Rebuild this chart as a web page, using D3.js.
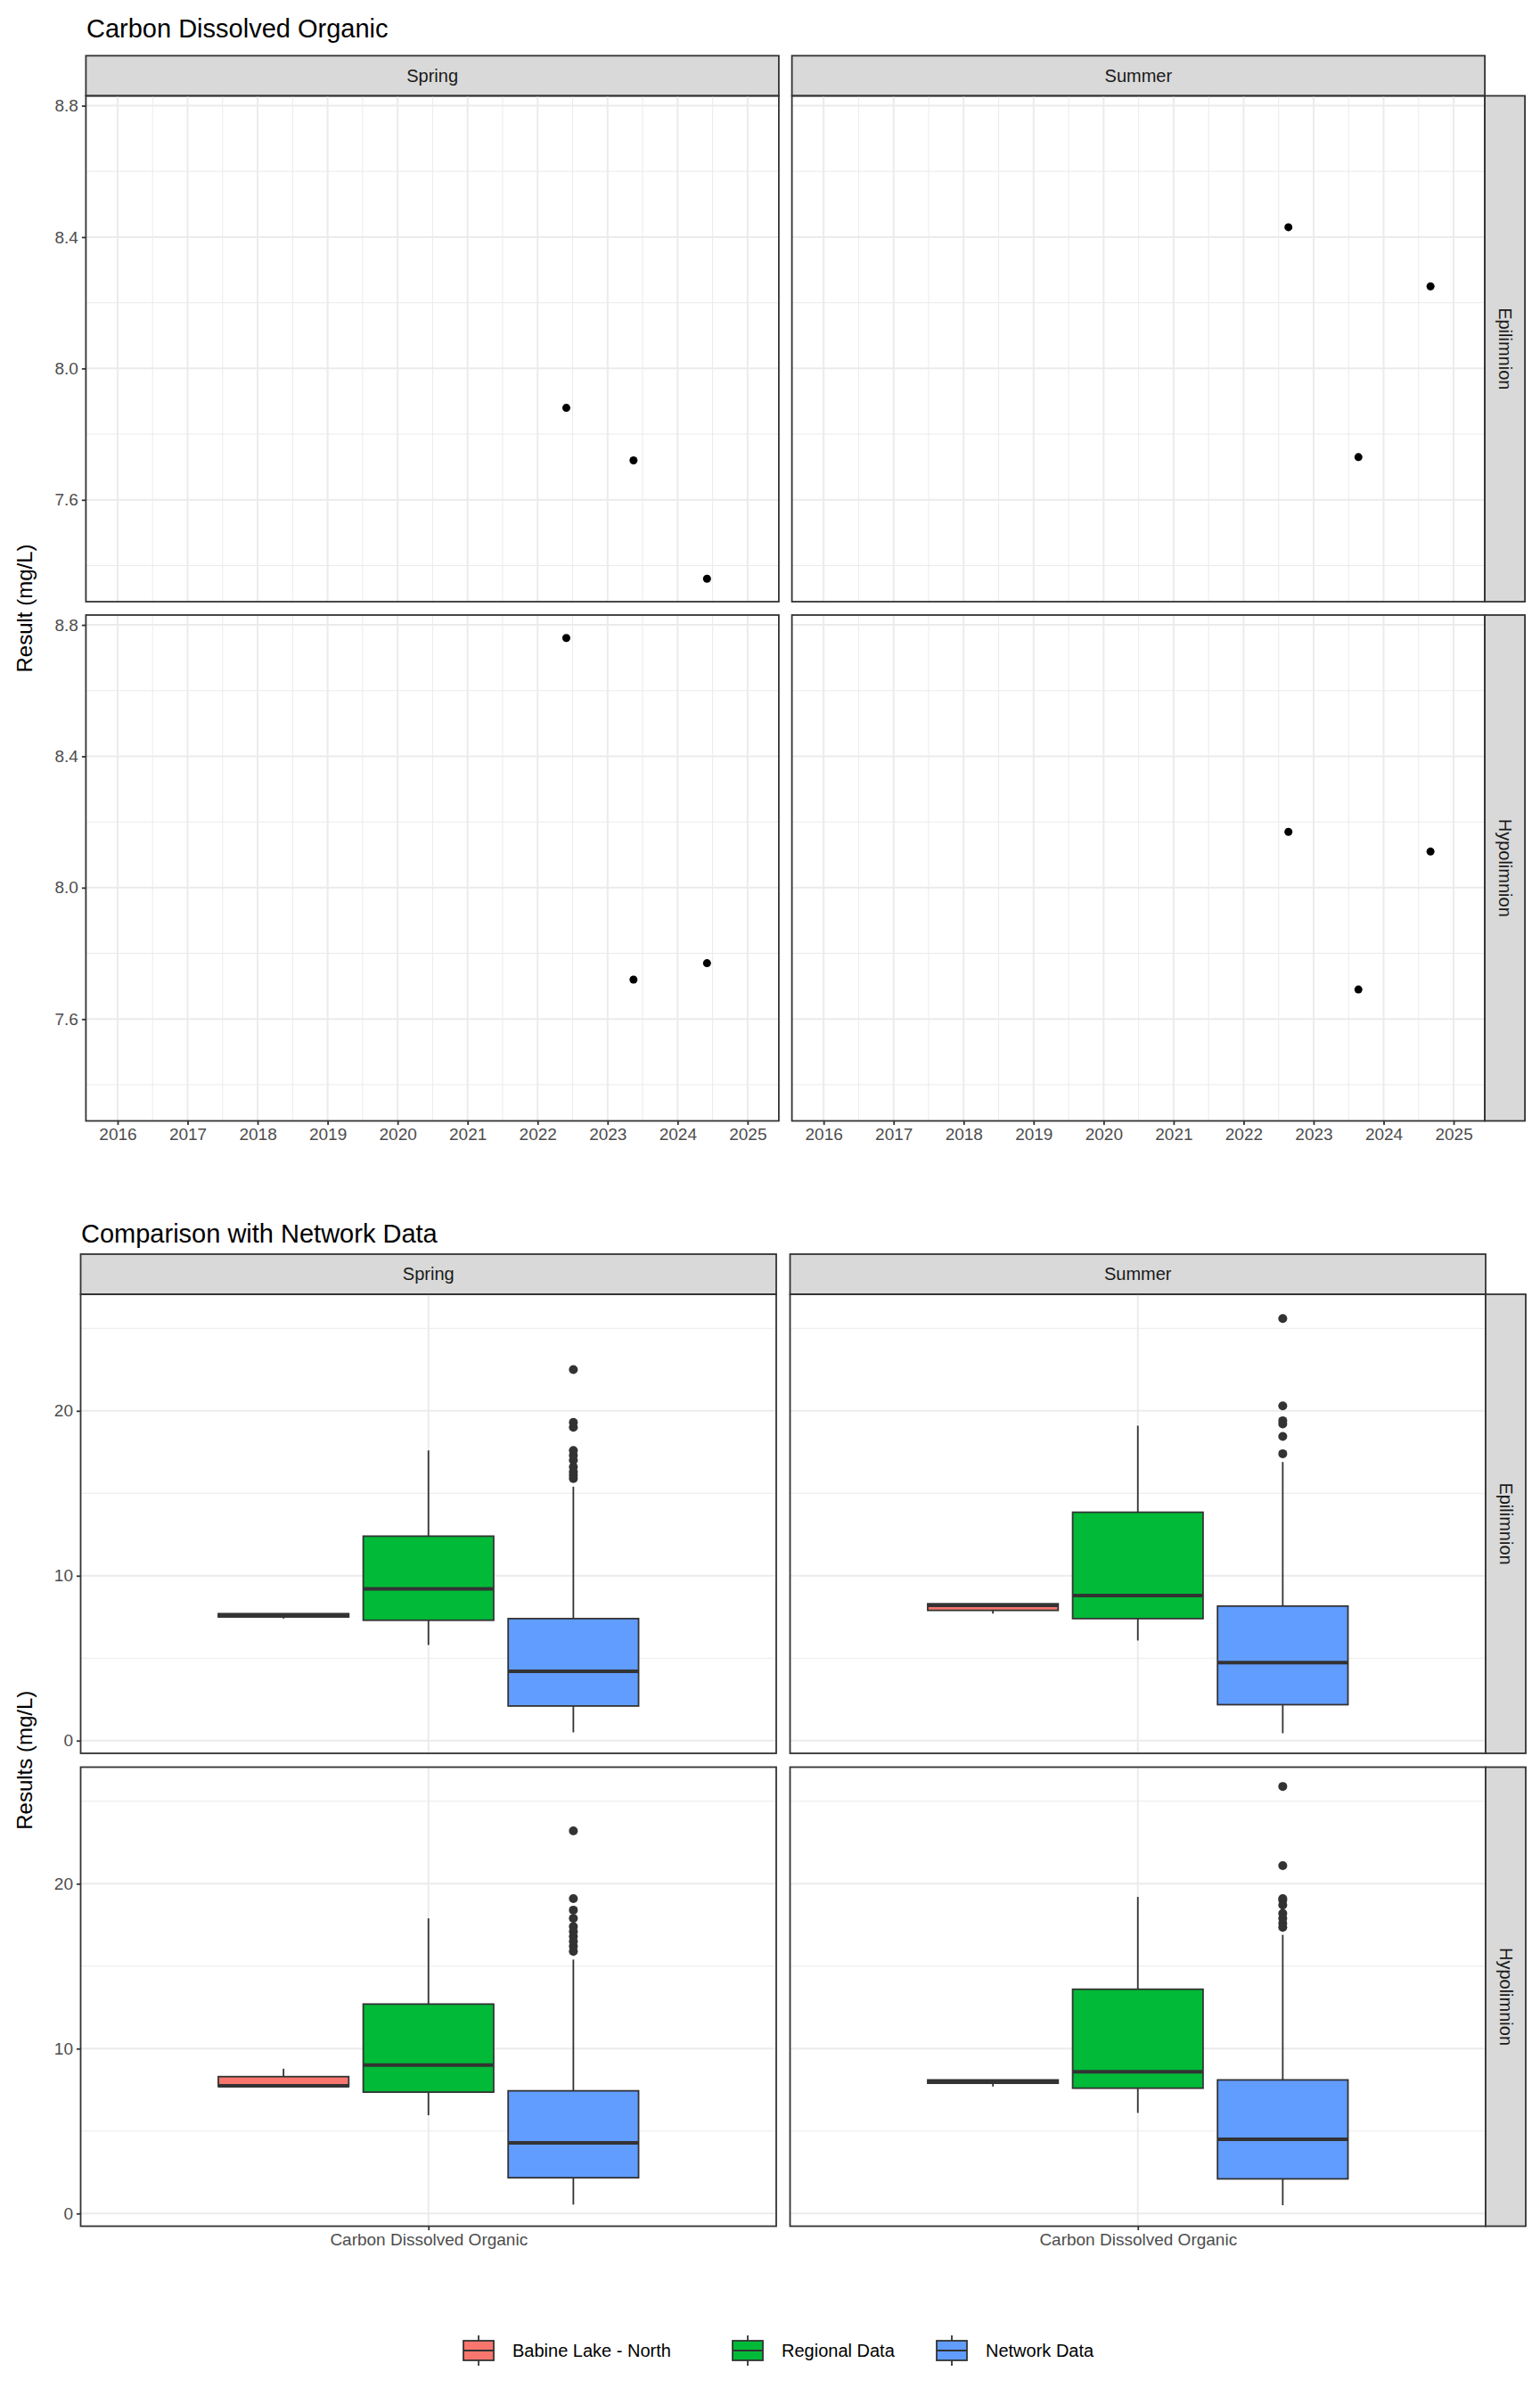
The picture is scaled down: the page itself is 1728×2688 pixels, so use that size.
<!DOCTYPE html>
<html><head><meta charset="utf-8">
<script src="https://cdn.jsdelivr.net/npm/d3@7"></script>
<style>body{margin:0;background:#fff}text{font-family:"Liberation Sans",Arial,sans-serif}</style>
</head><body><svg id="c" width="1728" height="2688"></svg>
<script>
const seasons = ["Spring","Summer"];
const depths = ["Epilimnion","Hypolimnion"];
const yearTicks = [2016,2017,2018,2019,2020,2021,2022,2023,2024,2025];
const resultTicks = [7.6,8.0,8.4,8.8];
const boxTicks = [0,10,20];
// scatter points: [season, depth, fractional year, value]
const pointsSpringEpi = [[2022.41,7.88],[2023.37,7.72],[2024.42,7.36]];
const pointsSummerEpi = [[2022.64,8.43],[2023.64,7.73],[2024.67,8.25]];
const pointsSpringHypo = [[2022.41,8.76],[2023.37,7.72],[2024.42,7.77]];
const pointsSummerHypo = [[2022.64,8.17],[2023.64,7.69],[2024.67,8.11]];
const groups = ["Babine Lake - North","Regional Data","Network Data"];
const groupColors = ["#F8766D","#00BA38","#619CFF"];
// boxes: [lo, q1, median, q3, hi, outliers]
const boxSpringEpi = [
  [7.4,7.5,7.6,7.7,7.7,[]],
  [5.8,7.3,9.2,12.4,17.6,[]],
  [0.5,2.1,4.2,7.4,15.4,[15.9,16.1,16.3,16.6,17.0,17.3,17.6,19.0,19.3,22.5]]];
const boxSummerEpi = [
  [7.7,7.9,8.2,8.3,8.3,[]],
  [6.07,7.4,8.8,13.85,19.1,[]],
  [0.45,2.18,4.73,8.16,16.9,[17.4,18.45,19.2,19.4,20.3,25.6]]];
const boxSpringHypo = [
  [7.7,7.7,7.75,8.3,8.78,[]],
  [5.96,7.36,9.0,12.7,17.9,[]],
  [0.54,2.17,4.28,7.44,15.4,[15.9,16.2,16.5,16.8,17.1,17.4,17.9,18.4,19.1,23.2]]];
const boxSummerHypo = [
  [7.7,7.9,8.0,8.1,8.1,[]],
  [6.1,7.6,8.6,13.6,19.2,[]],
  [0.5,2.1,4.5,8.1,16.9,[17.35,17.6,17.9,18.2,18.7,19.0,19.1,21.1,25.9]]];

const svg = d3.select("#c");
const dark="#333333", grid="#EBEBEB";

function panelFrame(g,x0,y0,w,h){
  g.append("rect").attr("x",x0).attr("y",y0).attr("width",w).attr("height",h)
   .attr("fill","none").attr("stroke",dark).attr("stroke-width",1.8);
}
function topStrip(x0,y0,w,label){
  svg.append("rect").attr("x",x0).attr("y",y0).attr("width",w).attr("height",45)
   .attr("fill","#D9D9D9").attr("stroke",dark).attr("stroke-width",1.8);
  svg.append("text").attr("x",x0+w/2).attr("y",y0+29).attr("text-anchor","middle")
   .attr("font-size",20).attr("fill","#1A1A1A").text(label);
}
function sideStrip(x0,y0,h,label){
  svg.append("rect").attr("x",x0).attr("y",y0).attr("width",45).attr("height",h)
   .attr("fill","#D9D9D9").attr("stroke",dark).attr("stroke-width",1.8);
  svg.append("text").attr("transform",`translate(${x0+16},${y0+h/2}) rotate(90)`)
   .attr("text-anchor","middle").attr("font-size",20).attr("fill","#1A1A1A").text(label);
}

// ---------- Top chart ----------
const T = {xs:[96.4,888.6], w:777.5, ys:[107.5,690], h:567.5};
svg.append("text").attr("x",97).attr("y",42).attr("font-size",29).attr("fill","#000").text("Carbon Dissolved Organic");
const pts = {Spring:{Epilimnion:pointsSpringEpi,Hypolimnion:pointsSpringHypo},Summer:{Epilimnion:pointsSummerEpi,Hypolimnion:pointsSummerHypo}};
seasons.forEach((s,i)=>{
  const x0=T.xs[i];
  const x=d3.scaleLinear().domain([2015.547,2025.446]).range([x0,x0+T.w]);
  topStrip(x0,T.ys[0]-45,T.w,s);
  depths.forEach((d,j)=>{
    const y0=T.ys[j];
    const y=d3.scaleLinear().domain([7.29,8.83]).range([y0+T.h,y0]);
    const g=svg.append("g");
    const minorX=yearTicks.map(t=>t+0.5).concat([2015.5]).filter(t=>t>=2015.547&&t<=2025.446);
    const minorY=[7.4,7.8,8.2,8.6];
    g.selectAll(".mx").data(minorX).join("line").attr("x1",x).attr("x2",x).attr("y1",y0).attr("y2",y0+T.h).attr("stroke",grid).attr("stroke-width",1);
    g.selectAll(".my").data(minorY).join("line").attr("y1",y).attr("y2",y).attr("x1",x0).attr("x2",x0+T.w).attr("stroke",grid).attr("stroke-width",1);
    g.selectAll(".Mx").data(yearTicks).join("line").attr("x1",x).attr("x2",x).attr("y1",y0).attr("y2",y0+T.h).attr("stroke",grid).attr("stroke-width",2);
    g.selectAll(".My").data(resultTicks).join("line").attr("y1",y).attr("y2",y).attr("x1",x0).attr("x2",x0+T.w).attr("stroke",grid).attr("stroke-width",2);
    g.selectAll("circle").data(pts[s][d]).join("circle").attr("cx",p=>x(p[0])).attr("cy",p=>y(p[1])).attr("r",4.5).attr("fill","#000");
    panelFrame(g,x0,y0,T.w,T.h);
    if(i===0){
      const ax=svg.append("g").attr("transform",`translate(${x0},0)`).call(d3.axisLeft(y).tickValues(resultTicks).tickFormat(d3.format(".1f")).tickSize(4.5).tickPadding(4));
      ax.select(".domain").remove();
      ax.selectAll("line").attr("stroke",dark).attr("stroke-width",1.8);
      ax.selectAll("text").attr("font-size",19).attr("fill","#4D4D4D").style("font-family","Liberation Sans");
    }
    if(i===1) sideStrip(x0+T.w,y0,T.h,d);
    if(j===1){
      const ax=svg.append("g").attr("transform",`translate(0,${y0+T.h})`).call(d3.axisBottom(x).tickValues(yearTicks).tickFormat(d3.format("d")).tickSize(4.5).tickPadding(4));
      ax.select(".domain").remove();
      ax.selectAll("line").attr("stroke",dark).attr("stroke-width",1.8);
      ax.selectAll("text").attr("font-size",19).attr("fill","#4D4D4D").style("font-family","Liberation Sans");
    }
  });
});
svg.append("text").attr("transform",`translate(36,${(T.ys[0]+T.ys[1]+T.h)/2}) rotate(-90)`).attr("text-anchor","middle").attr("font-size",24).text("Result (mg/L)");

// ---------- Bottom chart ----------
const B = {xs:[90.5,886.5], w:780.5, ys:[1452,1982.5], h:515};
svg.append("text").attr("x",91).attr("y",1394).attr("font-size",29).attr("fill","#000").text("Comparison with Network Data");
const boxes = {Spring:{Epilimnion:boxSpringEpi,Hypolimnion:boxSpringHypo},Summer:{Epilimnion:boxSummerEpi,Hypolimnion:boxSummerHypo}};
const offsets=[-0.25,0,0.25], bw=0.225;
seasons.forEach((s,i)=>{
  const x0=B.xs[i];
  const x=d3.scaleLinear().domain([0.4,1.6]).range([x0,x0+B.w]);
  topStrip(x0,B.ys[0]-45,B.w,s);
  depths.forEach((d,j)=>{
    const y0=B.ys[j];
    const y=d3.scaleLinear().domain([-0.77,27.07]).range([y0+B.h,y0]);
    const g=svg.append("g");
    g.selectAll(".my").data([5,15,25]).join("line").attr("y1",y).attr("y2",y).attr("x1",x0).attr("x2",x0+B.w).attr("stroke",grid).attr("stroke-width",1);
    g.selectAll(".My").data(boxTicks).join("line").attr("y1",y).attr("y2",y).attr("x1",x0).attr("x2",x0+B.w).attr("stroke",grid).attr("stroke-width",2);
    g.append("line").attr("x1",x(1)).attr("x2",x(1)).attr("y1",y0).attr("y2",y0+B.h).attr("stroke",grid).attr("stroke-width",2);
    boxes[s][d].forEach((b,k)=>{
      const cx=x(1+offsets[k]), xl=x(1+offsets[k]-bw/2), xr=x(1+offsets[k]+bw/2);
      g.append("line").attr("x1",cx).attr("x2",cx).attr("y1",y(b[4])).attr("y2",y(b[3])).attr("stroke",dark).attr("stroke-width",1.8);
      g.append("line").attr("x1",cx).attr("x2",cx).attr("y1",y(b[1])).attr("y2",y(b[0])).attr("stroke",dark).attr("stroke-width",1.8);
      g.append("rect").attr("x",xl).attr("width",xr-xl).attr("y",y(b[3])).attr("height",Math.max(0,y(b[1])-y(b[3])))
        .attr("fill",groupColors[k]).attr("stroke",dark).attr("stroke-width",1.8);
      g.append("line").attr("x1",xl).attr("x2",xr).attr("y1",y(b[2])).attr("y2",y(b[2])).attr("stroke",dark).attr("stroke-width",4);
      g.selectAll(null).data(b[5]).join("circle").attr("cx",cx).attr("cy",v=>y(v)).attr("r",5).attr("fill",dark);
    });
    panelFrame(g,x0,y0,B.w,B.h);
    if(i===0){
      const ax=svg.append("g").attr("transform",`translate(${x0},0)`).call(d3.axisLeft(y).tickValues(boxTicks).tickSize(4.5).tickPadding(4));
      ax.select(".domain").remove();
      ax.selectAll("line").attr("stroke",dark).attr("stroke-width",1.8);
      ax.selectAll("text").attr("font-size",19).attr("fill","#4D4D4D").style("font-family","Liberation Sans");
    }
    if(i===1) sideStrip(x0+B.w,y0,B.h,d);
    if(j===1){
      const ax=svg.append("g").attr("transform",`translate(0,${y0+B.h})`).call(d3.axisBottom(x).tickValues([1]).tickFormat(()=>"Carbon Dissolved Organic").tickSize(4.5).tickPadding(4));
      ax.select(".domain").remove();
      ax.selectAll("line").attr("stroke",dark).attr("stroke-width",1.8);
      ax.selectAll("text").attr("font-size",19).attr("fill","#4D4D4D").style("font-family","Liberation Sans");
    }
  });
});
svg.append("text").attr("transform",`translate(36,${(B.ys[0]+B.ys[1]+B.h)/2}) rotate(-90)`).attr("text-anchor","middle").attr("font-size",24).text("Results (mg/L)");

// legend
const legX=[520,822,1051];
groups.forEach((gname,k)=>{
  const lx=legX[k], ly=2637;
  svg.append("line").attr("x1",lx+17).attr("x2",lx+17).attr("y1",ly-17).attr("y2",ly+17).attr("stroke",dark).attr("stroke-width",1.8);
  svg.append("rect").attr("x",lx).attr("y",ly-11).attr("width",34).attr("height",22).attr("fill",groupColors[k]).attr("stroke",dark).attr("stroke-width",1.8);
  svg.append("line").attr("x1",lx).attr("x2",lx+34).attr("y1",ly).attr("y2",ly).attr("stroke",dark).attr("stroke-width",1.8);
  svg.append("text").attr("x",lx+55).attr("y",ly+7).attr("font-size",20).attr("fill","#000").text(gname);
});
</script></body></html>
